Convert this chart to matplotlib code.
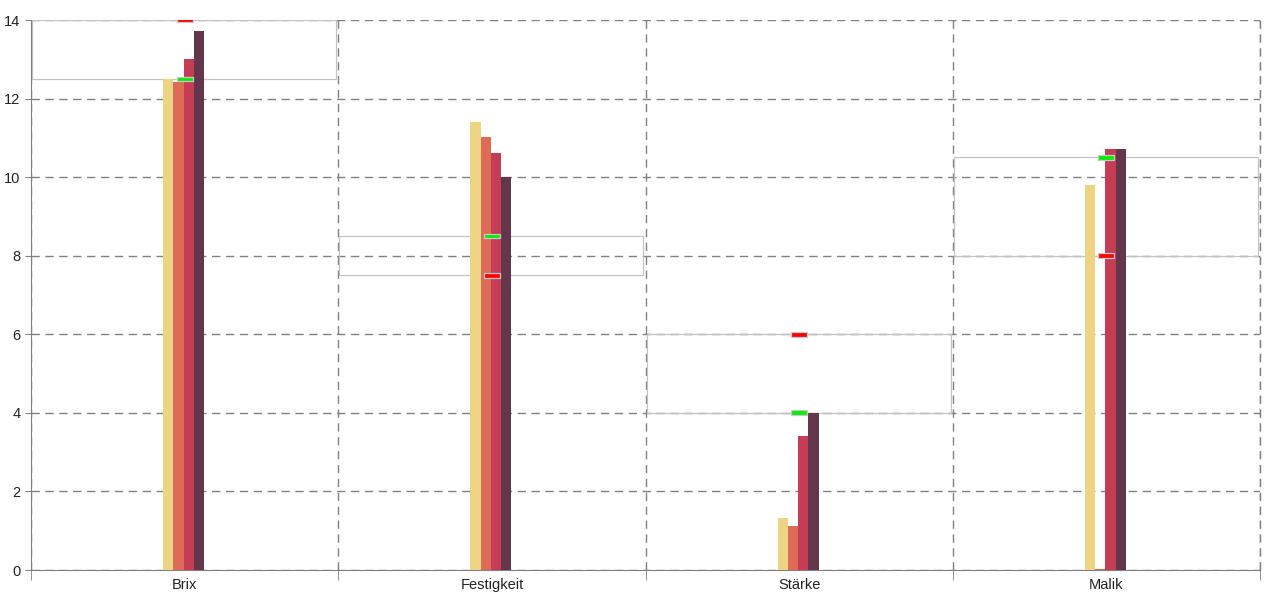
import matplotlib.pyplot as plt
import matplotlib.patches as mpatches
import numpy as np

plt.rcParams['font.family'] = ['Liberation Sans', 'DejaVu Sans']

categories = ['Brix', 'Festigkeit', 'Stärke', 'Malik']
series_1 = [12.5, 11.4, 1.32, 9.8]
series_2 = [12.42, 11.02, 1.12, 0.02]
series_3 = [13.0, 10.61, 3.41, 10.71]
series_4 = [13.72, 10.0, 4.0, 10.71]
range_low = [12.5, 7.5, 4.0, 8.0]
range_high = [14.0, 8.5, 6.0, 10.5]
# which end of the range is the red marker
red_marker = [14.0, 7.5, 6.0, 8.0]
green_marker = [12.5, 8.5, 4.0, 10.5]

colors = ['#edd485', '#dd6b56', '#c43d55', '#64364b']

fig = plt.figure(figsize=(12.8, 6), dpi=100)
ax = fig.add_axes([31 / 1280, 1 - 570 / 600, (1260 - 31) / 1280, 550 / 600])

x = np.arange(len(categories)) + 0.5
px = 1 / 307.0  # one pixel in data units
bw = 10.2 * px

# target range boxes
for i in range(len(categories)):
    rect = mpatches.Rectangle((i + 1 * px, range_low[i]), 1 - 3 * px,
                              range_high[i] - range_low[i],
                              facecolor='none', edgecolor='#c3c3c3', lw=0.9, zorder=2)
    ax.add_patch(rect)

for k, vals in enumerate([series_1, series_2, series_3, series_4]):
    ax.bar(x - 1 * px + (k - 1.5) * bw, vals, width=bw, color=colors[k], zorder=3)

# range markers
mw = 16 * px
for i in range(len(categories)):
    for val, c in [(red_marker[i], '#ff0000'), (green_marker[i], '#00ee00')]:
        m = mpatches.Rectangle((x[i] - mw / 2, val - 0.06), mw, 0.12,
                               facecolor=c, edgecolor='#c8c8c8', lw=0.9, zorder=5)
        ax.add_patch(m)

ax.set_xlim(0, 4)
ax.set_ylim(0, 14)
ax.set_yticks(np.arange(0, 15, 2))
ax.set_xticks(x)
ax.set_xticklabels(categories)
ax.set_xticks(np.arange(0, 5), minor=True)
ax.tick_params(axis='x', which='major', length=0, pad=6, labelsize=10.5, colors='#222222')
ax.tick_params(axis='x', which='minor', length=7, color='#808080')
ax.tick_params(axis='y', length=4, color='#808080', labelsize=10.5, labelcolor='#222222')

ax.grid(axis='y', which='major', color='#808080', linestyle=(0, (6, 4)), lw=1, zorder=1)
ax.grid(axis='x', which='minor', color='#808080', linestyle=(0, (6, 4)), lw=1, zorder=1)
ax.axvline(4, color='#808080', linestyle=(0, (6, 4)), lw=1, clip_on=False, zorder=1)
ax.set_axisbelow(True)

for s in ['top', 'right']:
    ax.spines[s].set_visible(False)
for s in ['left', 'bottom']:
    ax.spines[s].set_color('#808080')

plt.savefig('out.png', dpi=100)
